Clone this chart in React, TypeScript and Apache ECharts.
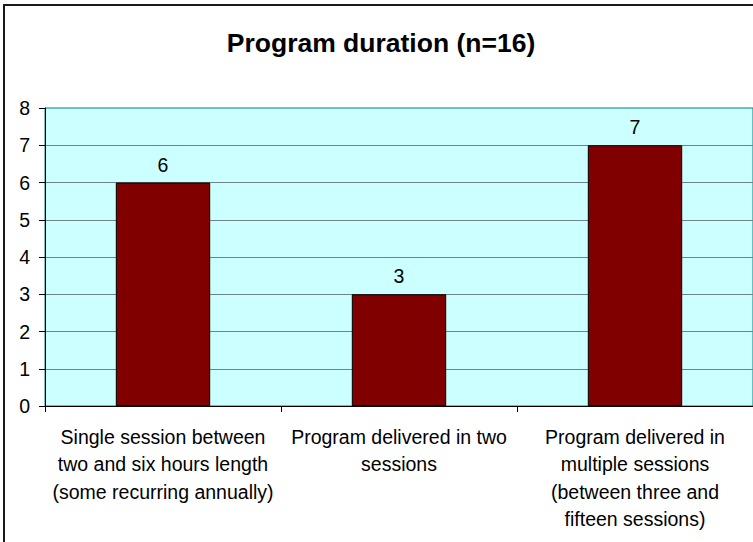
import React, { useEffect, useRef } from "react";
import * as echarts from "echarts";

const titleText = "Program duration (n=16)";
const categories = [
  "Single session between\ntwo and six hours length\n(some recurring annually)",
  "Program delivered in two\nsessions",
  "Program delivered in\nmultiple sessions\n(between three and\nfifteen sessions)",
];
const counts = [6, 3, 7];
const yTicks = { min: 0, max: 8, interval: 1 };

const FONT = "'Liberation Sans', Arial, Helvetica, sans-serif";

export default function App() {
  const ref = useRef<HTMLDivElement>(null);
  useEffect(() => {
    if (!ref.current) return;
    const chart = echarts.init(ref.current, null, { renderer: "svg" });
    chart.setOption({
      animation: false,
      backgroundColor: "#ffffff",
      textStyle: { fontFamily: FONT },
      graphic: [
        {
          type: "rect",
          shape: { x: 4, y: 5, width: 900, height: 700 },
          style: { fill: "none", stroke: "#1a1a1a", lineWidth: 2 },
          silent: true,
          z: 100,
        },
        {
          type: "text",
          x: 381,
          y: 43,
          style: {
            text: titleText,
            fontFamily: FONT,
            fontSize: 26.5,
            fontWeight: "bold",
            fill: "#000000",
            textAlign: "center",
            textVerticalAlign: "middle",
          },
        },
      ],
      grid: {
        left: 45,
        top: 108,
        right: -2,
        bottom: 136,
        show: true,
        backgroundColor: "#CCFFFF",
        borderColor: "#008080",
        borderWidth: 1,
      },
      xAxis: {
        type: "category",
        data: categories,
        axisLine: { show: true, lineStyle: { color: "#000000", width: 1 } },
        axisTick: { show: true, length: 6, lineStyle: { color: "#000000" } },
        axisLabel: {
          interval: 0,
          margin: 17,
          color: "#000000",
          fontFamily: FONT,
          fontSize: 19.5,
          lineHeight: 27.5,
          align: "center",
        },
        splitLine: { show: false },
      },
      yAxis: {
        type: "value",
        min: yTicks.min,
        max: yTicks.max,
        interval: yTicks.interval,
        axisLine: { show: true, lineStyle: { color: "#000000", width: 1 } },
        axisTick: { show: true, length: 6, lineStyle: { color: "#000000" } },
        axisLabel: {
          margin: 15,
          color: "#000000",
          fontFamily: FONT,
          fontSize: 19.5,
        },
        splitLine: {
          show: true,
          showMinLine: false,
          showMaxLine: false,
          lineStyle: { color: "#6f8585", width: 1 },
        },
      },
      series: [
        {
          type: "bar",
          data: counts,
          barWidth: "40%",
          itemStyle: { color: "#800000", borderColor: "#000000", borderWidth: 1 },
          label: {
            show: true,
            position: "top",
            distance: 8,
            color: "#000000",
            fontFamily: FONT,
            fontSize: 19.5,
          },
        },
      ],
    });
    return () => chart.dispose();
  }, []);
  return (
    <div
      ref={ref}
      style={{ position: "fixed", left: 0, top: 0, width: 753, height: 542 }}
    />
  );
}
